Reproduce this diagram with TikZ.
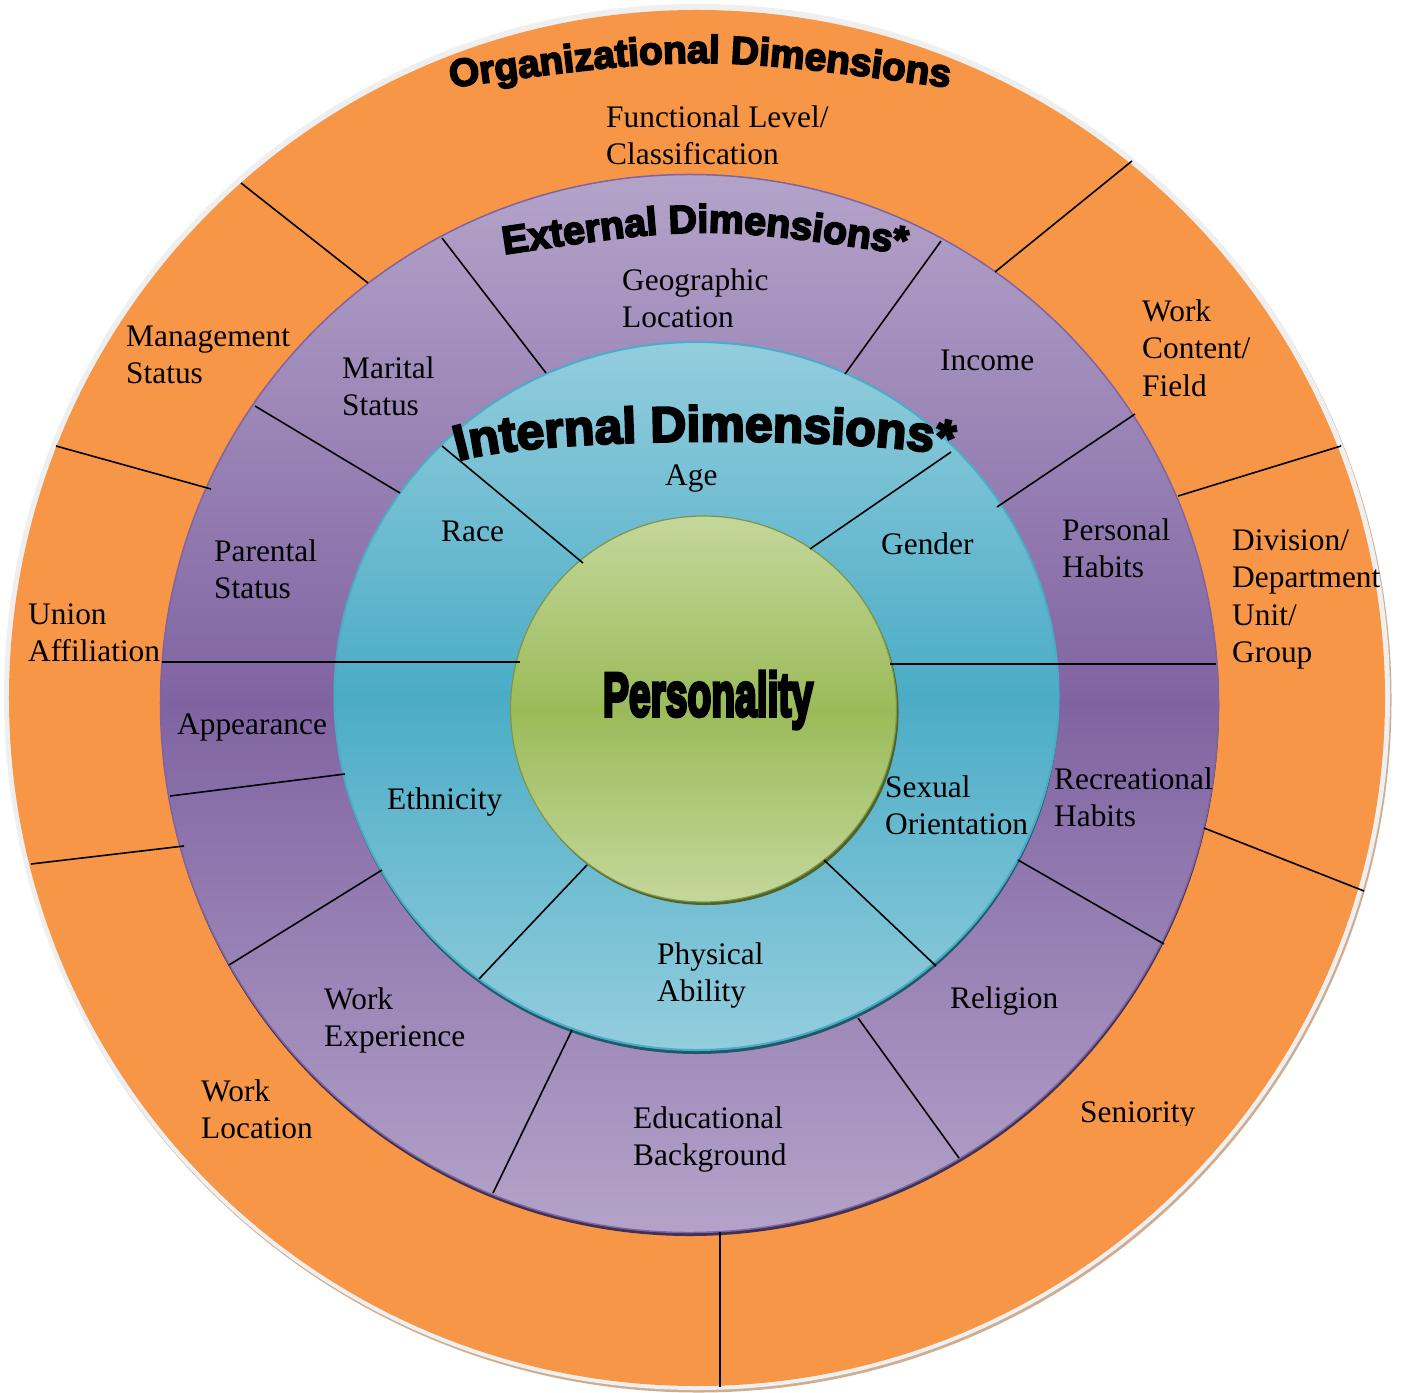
\documentclass[tikz,border=0pt]{standalone}
\usepackage{fontspec}
\setmainfont{Liberation Serif}
\newfontfamily\hf{Liberation Sans}[BoldFeatures={FakeBold=4.5}]
\newfontfamily\hfx{Liberation Sans}[BoldFeatures={FakeBold=6}]
\usetikzlibrary{decorations.text}
\definecolor{orng}{HTML}{F79646}
\definecolor{haloGray}{HTML}{EFEFEF}
\definecolor{haloTan}{HTML}{CDAE92}
\definecolor{purL}{HTML}{B3A3C9}
\definecolor{purD}{HTML}{8064A2}
\definecolor{purS}{HTML}{3F3151}
\definecolor{tealL}{HTML}{93CDDD}
\definecolor{tealD}{HTML}{4BACC6}
\definecolor{tealS}{HTML}{215968}
\definecolor{grnL}{HTML}{C4D79B}
\definecolor{grnD}{HTML}{9BBB59}
\definecolor{grnS}{HTML}{4F6228}
\tikzset{
  lbl/.style={anchor=base west, align=left, inner sep=0pt, text=black,
    font=\fontsize{31.5}{37.6}\selectfont},
  divider/.style={black, line width=1.6bp},
  arctitle/.style={decorate, decoration={text along path, text align=center, text={#1}}}
}
\begin{document}
\begin{tikzpicture}[x=1bp, y=-1bp]
\useasboundingbox (0,0) rectangle (1401,1393);
\fill[white] (0,0) rectangle (1401,1393);
% outer halo and orange ring
\fill[haloTan] (698.5,699.5) circle[radius=693bp];
\fill[haloGray] (697,697) circle[radius=693bp];
\fill[orng] (697,698) circle[radius=688bp];
% purple ring
\fill[purS] (690,707) circle[radius=529bp];
\path[draw=purD, line width=1.5bp, top color=purL, bottom color=purL, middle color=purD]
  (689.5,703.5) circle[radius=529bp];
% teal ring
\fill[tealS] (697,700) ellipse[x radius=362bp, y radius=354bp];
\path[draw=tealD, line width=2bp, top color=tealL, bottom color=tealL, middle color=tealD]
  (696.5,696) ellipse[x radius=362bp, y radius=354bp];
% green core
\fill[grnS] (705.5,712) circle[radius=193bp];
\path[draw=grnD!80!black, line width=1.2bp, top color=grnL, bottom color=grnL, middle color=grnD]
  (703.5,709) circle[radius=193bp];

% dividers, orange ring
\draw[divider] (241,183) -- (368,283);
\draw[divider] (56,446) -- (211,489);
\draw[divider] (162,662) -- (520,662);
\draw[divider] (31,864) -- (184,846);
\draw[divider] (720,1232) -- (720,1387);
\draw[divider] (1204,828) -- (1364,891);
\draw[divider] (1178,496) -- (1341,446);
\draw[divider] (995,272) -- (1132,161);
% dividers, purple ring
\draw[divider] (442,238) -- (546,373);
\draw[divider] (255,406) -- (400,493);
\draw[divider] (170,796) -- (345,774);
\draw[divider] (229,965) -- (382,870);
\draw[divider] (493,1193) -- (572,1030);
\draw[divider] (858,1018) -- (959,1158);
\draw[divider] (1018,860) -- (1164,944);
\draw[divider] (890,664) -- (1216,664);
\draw[divider] (997,507) -- (1135,414);
\draw[divider] (845,374) -- (941,241);
% dividers, teal ring
\draw[divider] (442,446) -- (583,563);
\draw[divider] (479,979) -- (587,865);
\draw[divider] (824,860) -- (936,966);
\draw[divider] (810,549) -- (951,452);

% arched titles
\path[arctitle={|\hf\bfseries\fontsize{39}{39}\selectfont|Organizational Dimensions}]
  (430,90.3) .. controls (700,53.7) .. (970,90.3);
\path[arctitle={|\hf\bfseries\fontsize{39.5}{39.5}\selectfont|External Dimensions*}]
  (480,258) .. controls (705,224) .. (930,258);
\path[arctitle={|\hf\bfseries\fontsize{50}{50}\selectfont|Internal Dimensions*}]
  (445,466) .. controls (505,434) and (895,434) .. (965,460);
\node[inner sep=0pt, font=\hfx\bfseries\fontsize{46}{46}\selectfont, xscale=0.85, yscale=1.35]
  (personality) at (708,700) {Personality};

% organizational labels (anchored at the baseline of the last line)
\node[lbl] (func) at (606,164.6) {Functional Level/\\Classification};
\node[lbl] (mgmt) at (126,383.6) {Management\\Status};
\node[lbl] (union) at (28,661.6) {Union\\Affiliation};
\node[lbl] (workloc) at (201,1138.6) {Work\\Location};
\begin{scope}
  \clip (1000,1050) rectangle (1250,1125);
  \node[lbl] (senior) at (1080,1122) {Seniority};
\end{scope}
\node[lbl] (division) at (1232,662.8) {Division/\\Department\\Unit/\\Group};
\node[lbl] (workcont) at (1142,396.2) {Work\\Content/\\Field};
% external labels
\node[lbl] (geo) at (622,327.6) {Geographic\\Location};
\node[lbl] (marital) at (342,415.6) {Marital\\Status};
\node[lbl] (parental) at (214,598.6) {Parental\\Status};
\node[lbl] (appear) at (177,734) {Appearance};
\node[lbl] (workexp) at (324,1046.6) {Work\\Experience};
\node[lbl] (edu) at (633,1165.6) {Educational\\Background};
\node[lbl] (relig) at (950,1008) {Religion};
\node[lbl] (recr) at (1054,826.6) {Recreational\\Habits};
\node[lbl] (phabits) at (1062,577.6) {Personal\\Habits};
\node[lbl] (income) at (940,370) {Income};
% internal labels
\node[lbl] (age) at (665,485) {Age};
\node[lbl] (race) at (441,541) {Race};
\node[lbl] (gender) at (881,554) {Gender};
\node[lbl] (ethn) at (387,809) {Ethnicity};
\node[lbl] (phys) at (657,1001.6) {Physical\\Ability};
\node[lbl] (sexual) at (885,834.6) {Sexual\\Orientation};
\end{tikzpicture}
\end{document}
